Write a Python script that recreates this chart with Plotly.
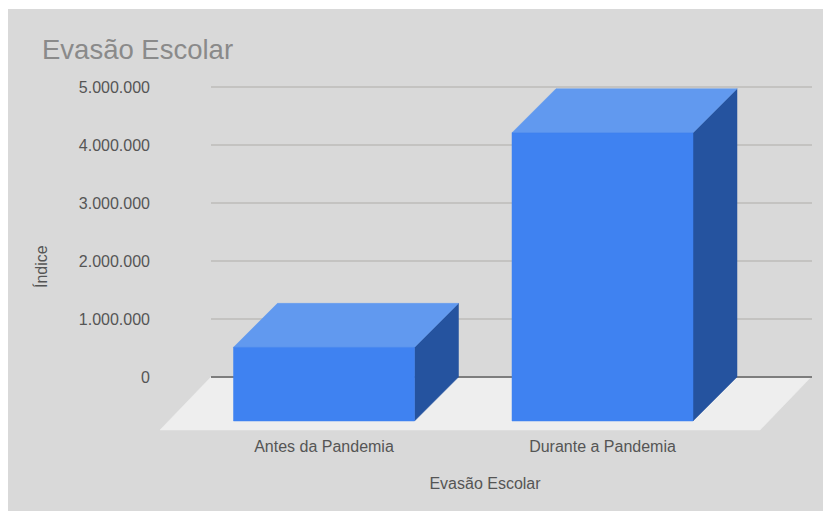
import plotly.graph_objects as go

categories = ["Antes da Pandemia", "Durante a Pandemia"]
values = [1270000, 4970000]
y_ticks = [0, 1000000, 2000000, 3000000, 4000000, 5000000]

W, H = 823, 511
L, R, T, B = 151, 819, 80, 435
X0, XSTEP = 324.0, 278.5
Y0, YSTEP = 377.0, 58.0 / 1e6
px2x = lambda p: (p - X0) / XSTEP
px2y = lambda p: (Y0 - p) / YSTEP
BAR_W = 181 / XSTEP
DX = 44 / XSTEP
DY = 44 / YSTEP

fig = go.Figure()

def poly(xs, ys, color):
    fig.add_trace(go.Scatter(x=xs + xs[:1], y=ys + ys[:1], mode="lines", fill="toself",
                             fillcolor=color, line=dict(color=color, width=0.5),
                             hoverinfo="skip", showlegend=False))

# floor
poly([px2x(160), px2x(211), px2x(811), px2x(760)],
     [px2y(430), 0, 0, px2y(430)], "#eeeeee")

# gridlines
for v in y_ticks:
    fig.add_trace(go.Scatter(x=[px2x(211), px2x(812)], y=[v, v], mode="lines",
                             line=dict(color="#7d7d7d" if v == 0 else "#bdbbb9", width=2 if v == 0 else 1.3),
                             hoverinfo="skip", showlegend=False))

# bars
for i, v in enumerate(values):
    l, r = i - BAR_W / 2, i + BAR_W / 2
    poly([r, r + DX, r + DX, r], [-DY, 0, v, v - DY], "#25539f")
    poly([l, r, r + DX, l + DX], [v - DY, v - DY, v, v], "#6199ef")
    poly([l, r, r, l], [-DY, -DY, v - DY, v - DY], "#3f82f1")

fig.update_layout(
    width=W, height=H, autosize=False,
    margin=dict(l=L, r=W - R, t=T, b=H - B, pad=0),
    paper_bgcolor="white", plot_bgcolor="rgba(0,0,0,0)",
    separators=",.",
    font=dict(family="Liberation Sans, Arial, sans-serif", size=16, color="#555555"),
    showlegend=False,
    xaxis=dict(range=[px2x(L), px2x(R)], tickmode="array", tickvals=[0, 1], ticktext=categories,
               showgrid=False, zeroline=False, showline=False, ticks="", fixedrange=True,
               tickfont=dict(size=16, color="#555555"),
               title=dict(text="Evasão Escolar", font=dict(size=16, color="#555555"), standoff=23)),
    yaxis=dict(range=[px2y(B), px2y(T)], tickmode="array", tickvals=y_ticks, tickformat=",d",
               showgrid=False, zeroline=False, showline=False, ticks="", fixedrange=True,
               tickfont=dict(size=16, color="#555555")),
    shapes=[dict(type="rect", xref="paper", yref="paper", layer="below", line_width=0,
                 fillcolor="#d9d9d9",
                 x0=(8 - L) / (R - L), x1=(W - L) / (R - L),
                 y0=(B - H) / (B - T), y1=(B - 9) / (B - T))],
    annotations=[
        dict(text="Evasão Escolar", xref="paper", yref="paper", showarrow=False, xanchor="left", yanchor="middle",
             x=(40 - L) / (R - L), y=(B - 50) / (B - T), font=dict(size=27.5, color="#8a8a8a")),
        dict(text="Índice", xref="paper", yref="paper", showarrow=False, textangle=-90,
             xanchor="center", yanchor="middle",
             x=(41 - L) / (R - L), y=(B - 267) / (B - T), font=dict(size=16, color="#555555")),
    ],
)

fig.write_html("out.html", post_script="document.body.style.margin='0';",
               config={"displayModeBar": False})
